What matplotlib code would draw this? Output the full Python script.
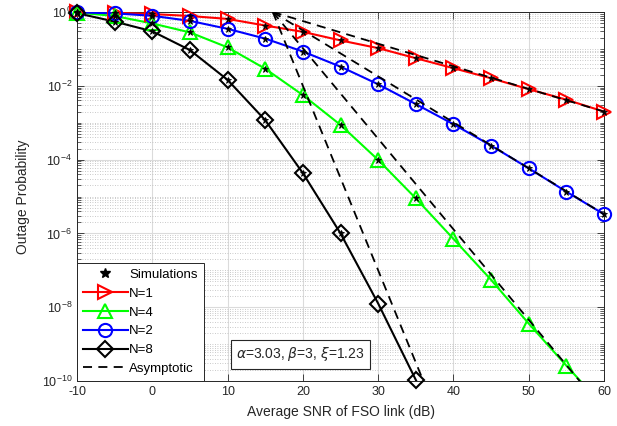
import numpy as np
import matplotlib
matplotlib.use('Agg')
import matplotlib.pyplot as plt
from matplotlib.lines import Line2D
from matplotlib.ticker import FixedLocator, LogLocator, NullFormatter

plt.rcParams['font.family'] = ['Liberation Sans', 'DejaVu Sans']
plt.rcParams['mathtext.default'] = 'regular'
plt.rcParams['axes.unicode_minus'] = False

# average SNR (dB)
snr = [-10, -5, 0, 5, 10, 15, 20, 25, 30, 35, 40, 45, 50, 55, 60]

# analytical outage probability
p_n1 = [0.99, 0.955, 0.88, 0.78, 0.65, 0.43, 0.29, 0.17, 0.105, 0.056,
        0.030, 0.016, 0.0081, 0.0042, 0.0020]
p_n4 = [0.97, 0.78, 0.49, 0.28, 0.11, 0.029, 5.6e-3, 8.7e-4, 9.8e-5, 8.9e-6,
        7.1e-7, 5.5e-8, 3.6e-9, 2.6e-10, 2.0e-11]
p_n2 = [0.98, 0.92, 0.79, 0.575, 0.35, 0.19, 0.085, 0.033, 0.011, 3.2e-3,
        9.1e-4, 2.4e-4, 5.8e-5, 1.35e-5, 3.3e-6]
snr_n8 = [-10, -5, 0, 5, 10, 15, 20, 25, 30, 35, 40]
p_n8 = [0.93, 0.55, 0.30, 0.093, 0.0145, 1.17e-3, 4.3e-5, 1.0e-6, 1.26e-8,
        1.07e-10, 8e-13]

# simulation points (only down to ~1e-6)
sim_n1 = p_n1
sim_n2 = p_n2
sim_snr_n4 = [-10, -5, 0, 5, 10, 15, 20, 25, 30, 35]
sim_n4 = [0.97, 0.78, 0.49, 0.28, 0.11, 0.029, 5.6e-3, 8.7e-4, 9.8e-5, 8.9e-6]
sim_snr_n8 = [-10, -5, 0, 5, 10, 15, 20, 25]
sim_n8 = [0.93, 0.55, 0.30, 0.093, 0.0145, 1.17e-3, 4.3e-5, 1.0e-6]

# asymptotic curves
asy_snr = [16, 60]
asy_n1 = [1.0, 2.0e-3]
asy_n2 = [1.0, 3.3e-6]
asy_n4 = [1.0, 1.6e-11]
asy_snr_n8 = [16, 40]
asy_n8 = [1.0, 1e-12]

TXT = (0.15, 0.15, 0.15)
YMIN, YMAX = 1e-10, 1.0

fig = plt.figure(figsize=(6.17, 4.26), dpi=100)
ax = fig.add_axes([0.1248, 0.1056, 0.8542, 0.8662])


def curve(x, y, color, marker, ms=9.5):
    x = np.array(x)
    y = np.array(y)
    ax.plot(x, y, color=color, lw=1.5, zorder=3)
    m = (y >= YMIN * 0.9) & (y <= YMAX * 1.1)
    ax.plot(x[m], y[m], ls='none', marker=marker, ms=ms, mew=1.5,
            mfc='none', mec=color, clip_on=False, zorder=4)


def sims(x, y):
    ax.plot(x, y, ls='none', marker='*', ms=4.5, color='k', mew=0.6,
            clip_on=False, zorder=5)


curve(snr, p_n1, (1, 0, 0), '>')
curve(snr, p_n4, (0, 1, 0), '^')
curve(snr, p_n2, (0, 0, 1), 'o')
curve(snr_n8, p_n8, 'k', 'D', ms=8.5)

sims(snr, sim_n1)
sims(snr, sim_n2)
sims(sim_snr_n4, sim_n4)
sims(sim_snr_n8, sim_n8)

dash = (0, (5, 3.5))
for xs, ys in [(asy_snr, asy_n1), (asy_snr, asy_n2), (asy_snr, asy_n4),
               (asy_snr_n8, asy_n8)]:
    ax.plot(xs, ys, color='k', lw=1.3, ls=dash, zorder=6)

ax.set_yscale('log')
ax.set_xlim(-10, 60)
ax.set_ylim(YMIN, YMAX)
ax.set_xticks(range(-10, 61, 10))
ax.yaxis.set_major_locator(FixedLocator(10.0 ** np.arange(-10, 1, 2)))
ax.yaxis.set_minor_locator(LogLocator(base=10, subs=np.arange(1, 10), numticks=100))
ax.yaxis.set_minor_formatter(NullFormatter())
ax.set_yticklabels([r'$10^{%d}$' % e for e in range(-10, 1, 2)])

ax.grid(True, which='major', color='0.86', lw=0.8, ls='-')
ax.grid(True, which='minor', axis='y', color='0.72', lw=0.6, ls=(0, (1, 2)))
ax.set_axisbelow(True)

ax.tick_params(which='both', direction='in', top=True, right=True,
               colors=TXT, labelsize=9)
ax.tick_params(which='major', length=5, width=0.6)
ax.tick_params(which='minor', length=3, width=0.5)
for s in ax.spines.values():
    s.set_color(TXT)
    s.set_linewidth(0.7)

ax.set_xlabel('Average SNR of FSO link (dB)', fontsize=10, color=TXT, labelpad=5)
ax.set_ylabel('Outage Probability', fontsize=10, color=TXT, labelpad=8)

handles = [
    Line2D([], [], ls='none', marker='*', ms=7, color='k'),
    Line2D([], [], color=(1, 0, 0), lw=1.5, marker='>', ms=9.5, mfc='none', mew=1.5),
    Line2D([], [], color=(0, 1, 0), lw=1.5, marker='^', ms=9.5, mfc='none', mew=1.5),
    Line2D([], [], color=(0, 0, 1), lw=1.5, marker='o', ms=9.5, mfc='none', mew=1.5),
    Line2D([], [], color='k', lw=1.5, marker='D', ms=8.5, mfc='none', mew=1.5),
    Line2D([], [], color='k', lw=1.3, ls=dash),
]
labels = ['Simulations', 'N=1', 'N=4', 'N=2', 'N=8', 'Asymptotic']
leg = ax.legend(handles, labels, loc='lower left', borderaxespad=0,
                fontsize=9.5, handlelength=3.4, handletextpad=0.1,
                labelspacing=0.5, borderpad=0.45, fancybox=False,
                framealpha=1, edgecolor=TXT)
leg.get_frame().set_linewidth(0.7)
leg.set_zorder(10)

ax.text(0.424, 0.072, r'$\mathit{\alpha}$=3.03, $\mathit{\beta}$=3, $\mathit{\xi}$=1.23',
        transform=ax.transAxes, ha='center', va='center', fontsize=10,
        color=TXT, zorder=10,
        bbox=dict(boxstyle='square,pad=0.4', fc='white', ec=TXT, lw=0.8))

fig.savefig('out.png', dpi=100)
